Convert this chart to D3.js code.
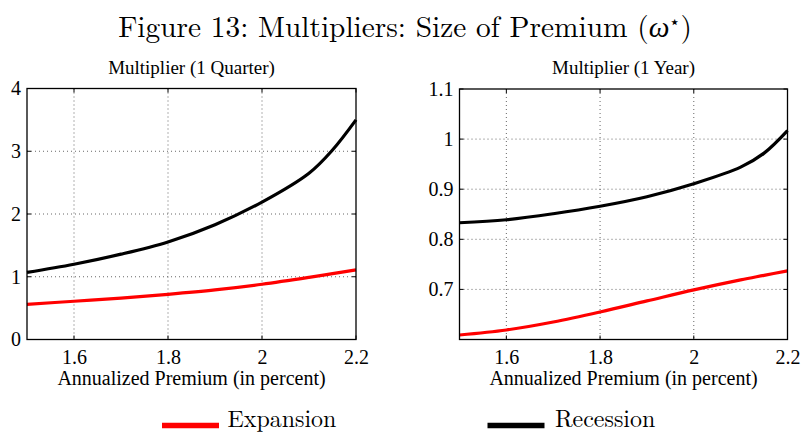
<!DOCTYPE html>
<html><head><meta charset="utf-8">
<script src="https://cdn.jsdelivr.net/npm/d3@7"></script>
<style>body{margin:0;background:#fff}svg{display:block}text{font-family:"Liberation Serif","Times New Roman",serif;fill:#000}</style>
</head><body><svg id="c" width="802" height="432"></svg>
<script>
const premium = [1.5, 1.6, 1.7, 1.8, 1.9, 2.0, 2.1, 2.15, 2.2];
const quarterRecession = [1.07, 1.20, 1.36, 1.555, 1.83, 2.19, 2.65, 3.02, 3.50];
const quarterExpansion = [0.56, 0.61, 0.66, 0.72, 0.79, 0.88, 0.99, 1.05, 1.11];
const yearRecession = [0.833, 0.839, 0.851, 0.866, 0.885, 0.911, 0.944, 0.972, 1.017];
const yearExpansion = [0.609, 0.619, 0.635, 0.655, 0.677, 0.699, 0.719, 0.728, 0.737];
const xTicks = [1.6, 1.8, 2.0, 2.2];
const quarterYTicks = [0, 1, 2, 3, 4];
const yearYTicks = [0.7, 0.8, 0.9, 1.0, 1.1];
const panelTitles = ["Multiplier (1 Quarter)", "Multiplier (1 Year)"];
const seriesNames = ["Expansion", "Recession"];
const seriesColors = ["#ff0000", "#000000"];

const svg = d3.select("#c");
const tnr = "'Liberation Serif','Times New Roman',serif";
const lm = "'Latin Modern Roman','CMU Serif','Liberation Serif',serif";

function fitText(sel, width) {
  const w = sel.node().getComputedTextLength();
  const fs = parseFloat(sel.style("font-size"));
  sel.style("font-size", (fs * width / w) + "px");
  return fs * width / w;
}

const title = svg.append("text").attr("x", 405).attr("y", 37).attr("text-anchor", "middle")
  .style("font-size", "24px").style("font-family", lm)
  .html("Figure 13: Multipliers: Size of Premium (<tspan font-style='italic'>ω</tspan><tspan dy='-9' font-size='0.6em'>⋆</tspan><tspan dy='9'>)</tspan>");
fitText(title, 574);

const panels = [
  {x0: 27, x1: 356, y0: 88.5, y1: 339.5, dom: [0, 4], ticks: quarterYTicks, fmt: d3.format("d"), series: [quarterExpansion, quarterRecession], title: panelTitles[0]},
  {x0: 459.5, x1: 787.5, y0: 89, y1: 339.5, dom: [0.6, 1.1], ticks: yearYTicks, fmt: d => d3.format(".1~f")(d), series: [yearExpansion, yearRecession], title: panelTitles[1]}
];

panels.forEach(p => {
  const g = svg.append("g");
  const x = d3.scaleLinear().domain([1.5, 2.2]).range([p.x0, p.x1]);
  const y = d3.scaleLinear().domain(p.dom).range([p.y1, p.y0]);
  // grid
  g.selectAll(".gx").data(xTicks.filter(t => t < 2.2)).join("line")
    .attr("x1", d => x(d)).attr("x2", d => x(d)).attr("y1", p.y0).attr("y2", p.y1)
    .attr("stroke", "#555").attr("stroke-width", 0.9).attr("stroke-dasharray", "1,3");
  g.selectAll(".gy").data(p.ticks.filter(t => t > p.dom[0] && t < p.dom[1])).join("line")
    .attr("y1", d => y(d)).attr("y2", d => y(d)).attr("x1", p.x0).attr("x2", p.x1)
    .attr("stroke", "#555").attr("stroke-width", 0.9).attr("stroke-dasharray", "1,3");
  // axes
  const ax = d3.axisBottom(x).tickValues(xTicks).tickSize(0).tickPadding(10).tickFormat(d => d3.format("~g")(d));
  const ay = d3.axisLeft(y).tickValues(p.ticks).tickSize(0).tickPadding(6).tickFormat(p.fmt);
  const gx = g.append("g").attr("transform", `translate(0,${p.y1})`).call(ax);
  const gy = g.append("g").attr("transform", `translate(${p.x0},0)`).call(ay);
  [gx, gy].forEach(a => { a.attr("font-family", null).attr("font-size", null); a.select(".domain").remove(); a.selectAll("text").style("font-size", "20px").style("font-family", tnr); });
  // inner ticks
  const tk = 4;
  xTicks.forEach(t => {
    g.append("line").attr("x1", x(t)).attr("x2", x(t)).attr("y1", p.y1).attr("y2", p.y1 - tk).attr("stroke", "#000");
    g.append("line").attr("x1", x(t)).attr("x2", x(t)).attr("y1", p.y0).attr("y2", p.y0 + tk).attr("stroke", "#000");
  });
  p.ticks.forEach(t => {
    g.append("line").attr("y1", y(t)).attr("y2", y(t)).attr("x1", p.x0).attr("x2", p.x0 + tk).attr("stroke", "#000");
    g.append("line").attr("y1", y(t)).attr("y2", y(t)).attr("x1", p.x1).attr("x2", p.x1 - tk).attr("stroke", "#000");
  });
  // lines
  const line = d3.line().x((d, i) => x(premium[i])).y(d => y(d)).curve(d3.curveCatmullRom.alpha(0.5));
  p.series.forEach((s, i) => {
    g.append("path").datum(s).attr("d", line).attr("fill", "none")
      .attr("stroke", seriesColors[i]).attr("stroke-width", 3.2).attr("stroke-linejoin", "round");
  });
  // frame
  g.append("rect").attr("x", p.x0).attr("y", p.y0).attr("width", p.x1 - p.x0).attr("height", p.y1 - p.y0)
    .attr("fill", "none").attr("stroke", "#000").attr("stroke-width", 1.3);
  g.append("text").attr("x", (p.x0 + p.x1) / 2).attr("y", 74).attr("text-anchor", "middle")
    .style("font-family", tnr).style("font-size", "19px").text(p.title);
  g.append("text").attr("x", (p.x0 + p.x1) / 2).attr("y", 385).attr("text-anchor", "middle")
    .style("font-family", tnr).style("font-size", "20px").text("Annualized Premium (in percent)");
});

// legend
const legX = [162, 487.5];
const legTextX = [227.5, 555];
let legFs = null;
seriesNames.forEach((n, i) => {
  svg.append("line").attr("x1", legX[i]).attr("x2", legX[i] + 57).attr("y1", 425.5).attr("y2", 425.5)
    .attr("stroke", seriesColors[i]).attr("stroke-width", 5.5);
  const t = svg.append("text").attr("x", legTextX[i]).attr("y", 426.5)
    .style("font-family", lm).style("font-size", "22px").text(n);
  if (i === 0) legFs = fitText(t, 109);
  else t.style("font-size", legFs + "px");
});
</script></body></html>
